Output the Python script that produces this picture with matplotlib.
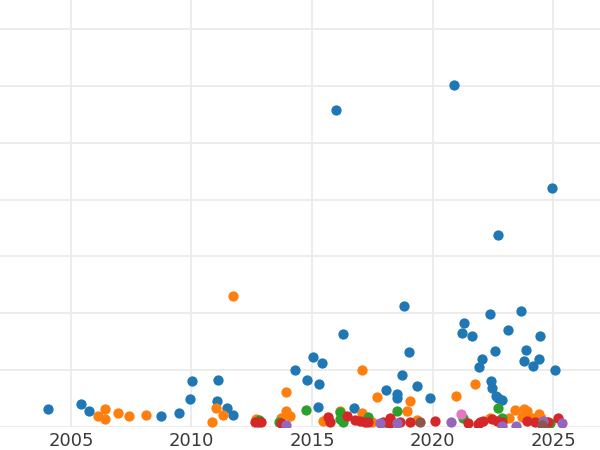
import matplotlib.pyplot as plt

# values, one list pair per colour group
blue_x = [2004.05, 2005.42, 2005.75, 2008.73, 2009.48, 2009.94, 2010.02, 2011.06, 2011.10, 2011.47,
          2011.72, 2014.29, 2014.79, 2015.04, 2015.29, 2015.41, 2015.24, 2015.99, 2016.28, 2016.74,
          2018.06, 2018.52, 2018.52, 2018.73, 2018.81, 2019.02, 2019.35, 2019.89, 2020.88, 2021.21,
          2021.30, 2021.63, 2021.92, 2022.04, 2022.37, 2022.58, 2022.42, 2022.46, 2022.62, 2022.71,
          2022.87, 2022.71, 2023.12, 2023.66, 2023.78, 2023.87, 2024.16, 2024.41, 2024.45, 2024.95,
          2025.07]
blue_y = [0.31, 0.40, 0.28, 0.19, 0.24, 0.49, 0.80, 0.45, 0.82, 0.33,
          0.21, 1.00, 0.82, 1.23, 0.76, 1.12, 0.35, 5.58, 1.63, 0.33,
          0.65, 0.58, 0.51, 0.91, 2.13, 1.32, 0.71, 0.51, 6.02, 1.65,
          1.83, 1.60, 1.05, 1.19, 1.99, 1.33, 0.81, 0.68, 0.54, 0.51,
          0.47, 3.38, 1.70, 2.04, 1.16, 1.35, 1.07, 1.20, 1.60, 4.20,
          1.00]

orange_x = [2006.12, 2006.41, 2006.41, 2006.95, 2007.41, 2008.11, 2010.85, 2011.02, 2011.31, 2011.72,
            2012.67, 2013.71, 2013.92, 2014.08, 2013.92, 2015.45, 2016.16, 2017.07, 2017.07, 2017.48,
            2017.69, 2018.93, 2019.06, 2019.35, 2020.97, 2021.75, 2022.37, 2023.16, 2023.41, 2023.70,
            2023.78, 2023.91, 2024.12, 2024.41, 2024.49, 2024.74]
orange_y = [0.19, 0.31, 0.14, 0.24, 0.19, 0.21, 0.08, 0.33, 0.21, 2.30,
            0.14, 0.15, 0.28, 0.19, 0.61, 0.10, 0.28, 0.24, 1.00, 0.08,
            0.52, 0.28, 0.45, 0.12, 0.54, 0.75, 0.15, 0.15, 0.30, 0.17,
            0.31, 0.28, 0.15, 0.23, 0.15, 0.09]

green_x = [2012.80, 2013.63, 2014.75, 2016.16, 2016.16, 2016.28, 2017.32, 2018.15, 2018.52, 2021.26,
           2022.71, 2022.87, 2024.86]
green_y = [0.12, 0.09, 0.30, 0.26, 0.14, 0.09, 0.18, 0.06, 0.28, 0.15,
           0.33, 0.15, 0.06]

red_x = [2012.63, 2012.76, 2012.88, 2013.71, 2015.66, 2015.74, 2016.45, 2016.78, 2016.99, 2017.19,
         2017.32, 2017.94, 2018.23, 2018.23, 2018.64, 2019.06, 2020.10, 2021.46, 2021.88, 2021.96,
         2022.08, 2022.46, 2022.66, 2022.87, 2023.91, 2024.24, 2024.78, 2025.19]
red_y = [0.08, 0.08, 0.08, 0.06, 0.17, 0.08, 0.19, 0.12, 0.10, 0.08,
         0.09, 0.08, 0.16, 0.06, 0.08, 0.09, 0.11, 0.06, 0.05, 0.09,
         0.11, 0.13, 0.10, 0.09, 0.10, 0.08, 0.08, 0.15]

purple_x = [2013.92, 2017.81, 2018.52, 2020.76, 2022.87, 2023.45, 2024.57, 2025.36]
purple_y = [0.03, 0.07, 0.07, 0.08, 0.02, 0.02, 0.11, 0.06]

brown_x = [2019.47, 2024.53]
brown_y = [0.09, 0.03]

pink_x = [2021.17]
pink_y = [0.22]

groups = [
    (blue_x, blue_y, '#1f77b4'),
    (orange_x, orange_y, '#ff7f0e'),
    (green_x, green_y, '#2ca02c'),
    (red_x, red_y, '#d62728'),
    (purple_x, purple_y, '#9467bd'),
    (brown_x, brown_y, '#8c564b'),
    (pink_x, pink_y, '#e377c2'),
]

fig = plt.figure(figsize=(6, 4.5), dpi=100)
ax = fig.add_axes([0, 0.0516, 1, 0.9484])

for gx, gy, c in groups:
    ax.scatter(gx, gy, s=55, color=c, linewidths=0, zorder=3)

ax.set_xlim(2002.06, 2026.94)
ax.set_ylim(0, 7.514)
ax.set_xticks([2005, 2010, 2015, 2020, 2025])
ax.set_yticks(range(0, 8))
ax.set_yticklabels([])
ax.tick_params(length=0, labelsize=13, labelcolor='#3a3a3a', pad=4)
ax.grid(True, color='#ebebeb', linewidth=1.3, zorder=0)
ax.set_axisbelow(True)
for s in ax.spines.values():
    s.set_visible(False)

fig.savefig('out.png', dpi=100)
